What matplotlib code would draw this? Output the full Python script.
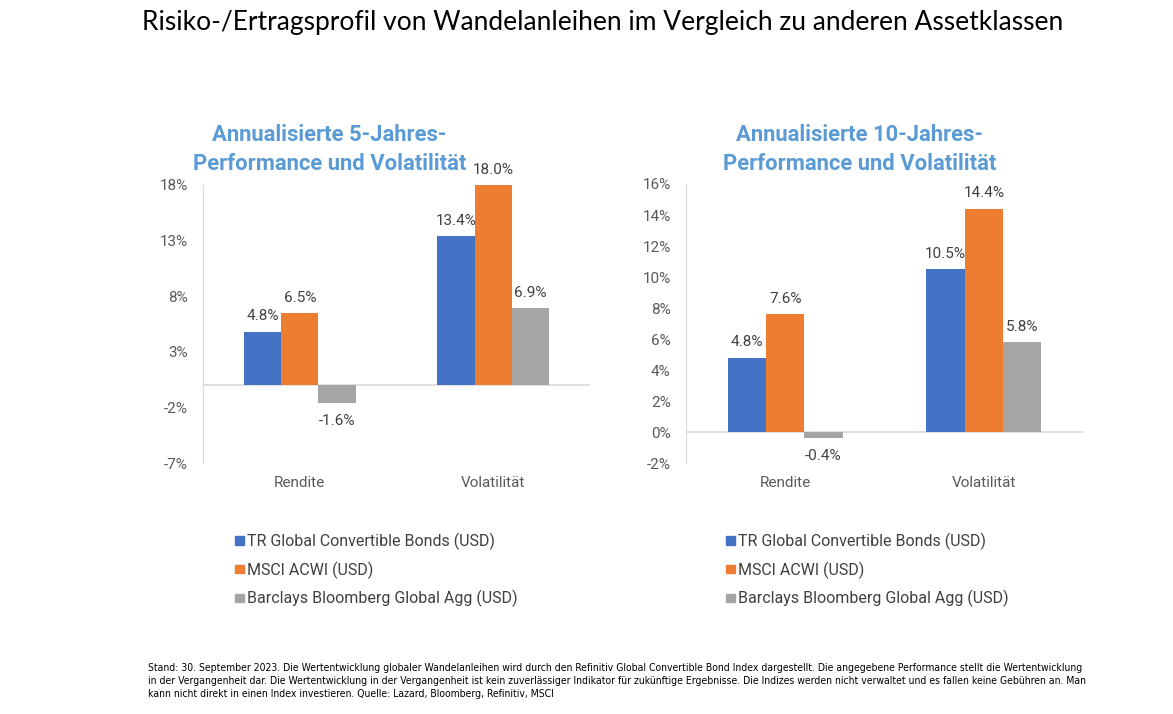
import numpy as np
import matplotlib.pyplot as plt
from matplotlib.patches import Patch

# data
categories = ['Rendite', 'Volatilität']
series = ['TR Global Convertible Bonds (USD)', 'MSCI ACWI (USD)', 'Barclays Bloomberg Global Agg (USD)']
colors = ['#4472C4', '#ED7D31', '#A5A5A5']

five_year = [[4.8, 13.4], [6.5, 18.0], [-1.6, 6.9]]
ten_year = [[4.8, 10.5], [7.6, 14.4], [-0.4, 5.8]]

title_main = 'Risiko-/Ertragsprofil von Wandelanleihen im Vergleich zu anderen Assetklassen'
title_5 = 'Annualisierte 5-Jahres-\nPerformance und Volatilität'
title_10 = 'Annualisierte 10-Jahres-\nPerformance und Volatilität'
footnote = ('Stand: 30. September 2023. Die Wertentwicklung globaler Wandelanleihen wird durch den Refinitiv Global Convertible Bond Index dargestellt. Die angegebene Performance stellt die Wertentwicklung\n'
            'in der Vergangenheit dar. Die Wertentwicklung in der Vergangenheit ist kein zuverlässiger Indikator für zukünftige Ergebnisse. Die Indizes werden nicht verwaltet und es fallen keine Gebühren an. Man\n'
            'kann nicht direkt in einen Index investieren. Quelle: Lazard, Bloomberg, Refinitiv, MSCI')

plt.rcParams['font.family'] = ['Roboto', 'DejaVu Sans']

fig = plt.figure(figsize=(11.73, 7.14), dpi=100)
fig.text(0.514, 0.969, title_main, ha='center', va='center', fontsize=19,
         family=['Lato', 'DejaVu Sans'], color='black')


def draw(ax, values, ticks, ylim, title, title_x):
    x = np.arange(len(categories))
    w = 0.193
    for i, vals in enumerate(values):
        pos = x + (i - 1) * w
        ax.bar(pos, vals, width=w, color=colors[i], zorder=2)
        for px, v in zip(pos, vals):
            if v >= 0:
                ax.annotate(f'{v:.1f}%', (px, v), xytext=(0, 6), textcoords='offset points',
                            ha='center', va='bottom', fontsize=11, color='#404040')
            else:
                ax.annotate(f'{v:.1f}%', (px, v), xytext=(0, -8), textcoords='offset points',
                            ha='center', va='top', fontsize=11, color='#404040')
    ax.set_xlim(-0.5, 1.5)
    ax.set_ylim(*ylim)
    ax.set_yticks(ticks)
    ax.set_yticklabels([f'{t}%' for t in ticks])
    ax.set_xticks(x)
    ax.set_xticklabels(categories)
    ax.axhline(0, color='#D9D9D9', lw=1.2, zorder=1)
    for s in ['top', 'right', 'bottom']:
        ax.spines[s].set_visible(False)
    ax.spines['left'].set_color('#D9D9D9')
    ax.tick_params(axis='both', length=0, labelsize=11, colors='#595959')
    ax.tick_params(axis='x', pad=9)
    ax.tick_params(axis='y', pad=11)
    fig.text(title_x, 0.791, title, ha='center', va='center', fontsize=15.8,
             fontweight='bold', color='#5B9BD5', linespacing=1.42)


ax1 = fig.add_axes([0.1731, 0.3515, 0.330, 0.3894])
draw(ax1, five_year, [18, 13, 8, 3, -2, -7], (-7, 18), title_5, 0.281)

ax2 = fig.add_axes([0.5848, 0.3515, 0.3385, 0.3908])
draw(ax2, ten_year, [16, 14, 12, 10, 8, 6, 4, 2, 0, -2], (-2, 16), title_10, 0.733)

handles = [Patch(color=c) for c in colors]
for lx in [0.2003, 0.619]:
    fig.legend(handles, series, loc='upper left', bbox_to_anchor=(lx, 0.254), frameon=False,
               fontsize=11.5, labelcolor='#404040', handlelength=0.56, handleheight=0.45,
               handletextpad=0.2, labelspacing=0.72, borderaxespad=0, borderpad=0)

fig.text(0.126, 0.046, footnote, ha='left', va='center', fontsize=7.5,
         family=['Liberation Sans Narrow', 'DejaVu Sans'], fontstretch='condensed',
         color='black', linespacing=1.38)

fig.savefig('out.png', dpi=100)
